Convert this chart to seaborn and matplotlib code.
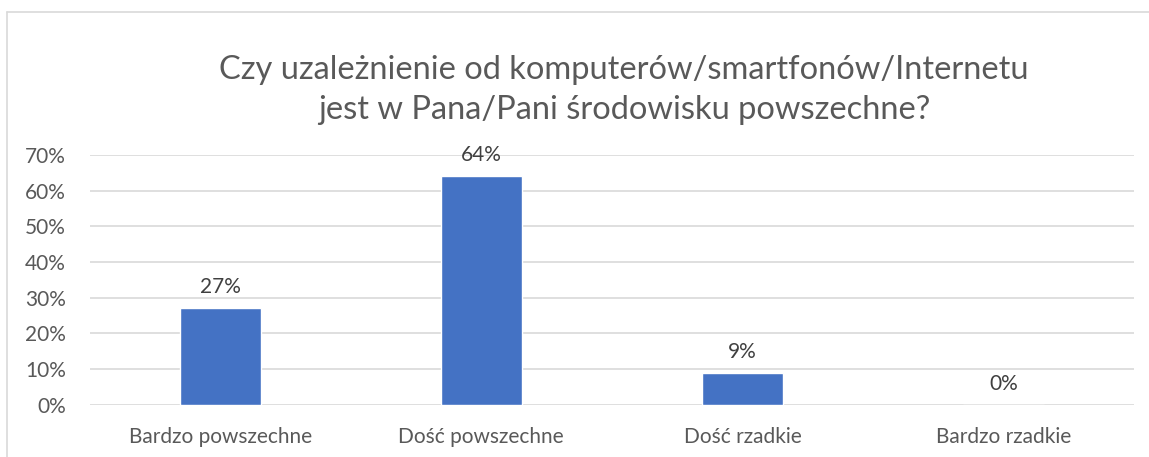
import matplotlib
matplotlib.use("Agg")
import matplotlib.pyplot as plt
from matplotlib.lines import Line2D
from matplotlib.ticker import PercentFormatter
import pandas as pd
import seaborn as sns

categories = ["Bardzo powszechne", "Dość powszechne", "Dość rzadkie", "Bardzo rzadkie"]
shares = [0.27, 0.64, 0.09, 0.0]
labels = ["27%", "64%", "9%", "0%"]
title = "Czy uzależnienie od komputerów/smartfonów/Internetu\njest w Pana/Pani środowisku powszechne?"

df = pd.DataFrame({"kategoria": categories, "udzial": shares})

sns.set_style("white")
plt.rcParams["font.family"] = ["Lato", "DejaVu Sans"]
text_col = "#595959"

fig = plt.figure(figsize=(11.49, 4.57), dpi=100)
ax = fig.add_axes([0.078, 0.114, 0.909, 0.547])

sns.barplot(data=df, x="kategoria", y="udzial", color="#4472C4", width=0.31,
            saturation=1, ax=ax)

ax.set_ylim(0, 0.7)
ax.set_yticks([i / 10 for i in range(8)])
ax.yaxis.set_major_formatter(PercentFormatter(1.0, decimals=0))
ax.grid(axis="y", color="#d9d9d9", linewidth=1.2)
ax.set_axisbelow(True)
for s in ax.spines.values():
    s.set_visible(False)
ax.tick_params(axis="both", length=0, labelsize=15, colors=text_col)
ax.tick_params(axis="x", pad=16)
ax.tick_params(axis="y", pad=17)
ax.set_xlabel("")
ax.set_ylabel("")

for i, (v, lab) in enumerate(zip(shares, labels)):
    ax.annotate(lab, (i, v), xytext=(0, 8), textcoords="offset points",
                ha="center", va="bottom", fontsize=15, color="#404040")

fig.text(0.543, 0.803, title, ha="center", va="center", fontsize=23.5,
         color=text_col, linespacing=1.38)

# chart-area border (top and left visible)
fig.add_artist(Line2D([0.006, 1.0], [0.973, 0.973], color="#d9d9d9", lw=1.2, transform=fig.transFigure))
fig.add_artist(Line2D([0.006, 0.006], [0.0, 0.973], color="#d9d9d9", lw=1.2, transform=fig.transFigure))

fig.savefig("out.png", dpi=100)
